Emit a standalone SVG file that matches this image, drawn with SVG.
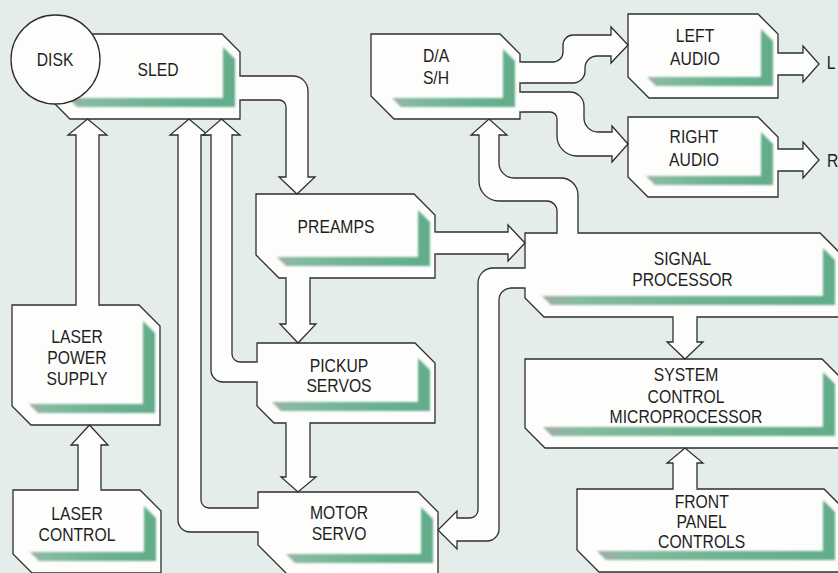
<svg xmlns="http://www.w3.org/2000/svg" width="838" height="573" viewBox="0 0 838 573">
<defs>
<linearGradient id="sh" x1="0" y1="0" x2="1" y2="0">
<stop offset="0" stop-color="#a3aba7"/>
<stop offset="0.12" stop-color="#86bba0"/>
<stop offset="0.5" stop-color="#6fb392"/>
<stop offset="1" stop-color="#62ac8a"/>
</linearGradient>
<filter id="soft" x="-5%" y="-5%" width="110%" height="110%"><feGaussianBlur stdDeviation="0.8"/></filter>
</defs>
<style>
.box{fill:#fdfdfc;stroke:#2e2e2e;stroke-width:1.3;stroke-linejoin:miter}
.shd{fill:url(#sh);filter:url(#soft)}
.con{fill:#fcfdfc;stroke:#2e2e2e;stroke-width:1.3;stroke-linejoin:miter}
.gap{fill:#fdfdfc}
.t{font-family:"Liberation Sans",Arial,sans-serif;font-size:18.5px;fill:#1e1e1e;text-anchor:middle;transform-box:fill-box;transform-origin:center;transform:scaleX(0.85)}
.s{text-anchor:start}
</style>
<rect width="838" height="573" fill="#e5edeb"/>

<g id="sled">
<polygon class="box" points="55,34 222,34 240,52 240,119 70,119 55,104"/>
<polygon class="shd" points="68,98 223,98 223,47 235,59 235,107 77,107"/>
<text class="t" x="158" y="76">SLED</text>
</g>
<g id="disk">
<circle class="box" cx="55.5" cy="59.5" r="44.5"/>
<text class="t" x="55" y="66.5">DISK</text>
</g>
<g id="da-sh">
<polygon class="box" points="371,34 500,34 520,54 520,119 394,119 371,96"/>
<polygon class="shd" points="392,98 503,98 503,49 515,61 515,107 401,107"/>
<text class="t" x="436" y="62.5">D/A</text>
<text class="t" x="436" y="84">S/H</text>
</g>
<g id="left-audio">
<polygon class="box" points="628,14 758,14 778,34 778,98 649,98 628,77"/>
<polygon class="shd" points="647,77 761,77 761,29 773,41 773,86 656,86"/>
<text class="t" x="695" y="42.5">LEFT</text>
<text class="t" x="695" y="65.5">AUDIO</text>
</g>
<g id="right-audio">
<polygon class="box" points="628,117 758,117 778,137 778,197 648,197 628,177"/>
<polygon class="shd" points="646,176 761,176 761,132 773,144 773,185 655,185"/>
<text class="t" x="694" y="143.5">RIGHT</text>
<text class="t" x="694" y="166.5">AUDIO</text>
</g>
<g id="preamps">
<polygon class="box" points="256,194 414,194 435,215 435,278 279,278 256,255"/>
<polygon class="shd" points="277,257 418,257 418,210 430,222 430,266 286,266"/>
<text class="t" x="336" y="233.3">PREAMPS</text>
</g>
<g id="pickup-servos">
<polygon class="box" points="257,343 415,343 435,363 435,423 274,423 257,406"/>
<polygon class="shd" points="272,402 418,402 418,358 430,370 430,411 281,411"/>
<text class="t" x="339" y="372.5">PICKUP</text>
<text class="t" x="339" y="392.5">SERVOS</text>
</g>
<g id="motor-servo">
<polygon class="box" points="258,492 418,492 438,512 438,575 288,575 258,545"/>
<polygon class="shd" points="286,554 421,554 421,507 433,519 433,563 295,563"/>
<text class="t" x="339" y="519.5">MOTOR</text>
<text class="t" x="339" y="540.5">SERVO</text>
</g>
<g id="laser-power-supply">
<polygon class="box" points="12,305 139,305 160,326 160,425 31,425 12,406"/>
<polygon class="shd" points="29,404 143,404 143,321 155,333 155,413 38,413"/>
<text class="t" x="77" y="342.7">LASER</text>
<text class="t" x="77" y="364">POWER</text>
<text class="t" x="77" y="385">SUPPLY</text>
</g>
<g id="laser-control">
<polygon class="box" points="13,490 140,490 161,511 161,573 32,573 13,554"/>
<polygon class="shd" points="30,552 144,552 144,506 156,518 156,561 39,561"/>
<text class="t" x="77" y="520">LASER</text>
<text class="t" x="77" y="540.7">CONTROL</text>
</g>
<g id="signal-processor">
<polygon class="box" points="525,233 820,233 840,253 840,317 544,317 525,298"/>
<polygon class="shd" points="542,296 823,296 823,248 835,260 835,305 551,305"/>
<text class="t" x="682.5" y="265">SIGNAL</text>
<text class="t" x="682.5" y="285.7">PROCESSOR</text>
</g>
<g id="system-control">
<polygon class="box" points="525,359 822,359 840,377 840,448 545,448 525,428"/>
<polygon class="shd" points="543,427 823,427 823,372 835,384 835,436 552,436"/>
<text class="t" x="686" y="380.7">SYSTEM</text>
<text class="t" x="686" y="402.7">CONTROL</text>
<text class="t" x="686" y="423.3">MICROPROCESSOR</text>
</g>
<g id="front-panel">
<polygon class="box" points="577,489 824,489 840,505 840,572 599,572 577,550"/>
<polygon class="shd" points="597,551 823,551 823,500 835,512 835,560 606,560"/>
<text class="t" x="701.7" y="508.3">FRONT</text>
<text class="t" x="701.7" y="528.3">PANEL</text>
<text class="t" x="701.7" y="548.3">CONTROLS</text>
</g>

<g id="connectors">
<path class="con" d="M240,76 H293 A15,15 0 0 1 308,91 V177 H315 L297,194 L279,177 H286 V107 A7,7 0 0 0 279,100 H240"/>
<path class="con" d="M286,278 V324 H280 L298,343 L316,324 H310 V278"/>
<path class="con" d="M286,423 V477 H281 L298,492 L316,477 H310 V423"/>
<path class="con" d="M76,305 V135 H68 L87.5,119 L107,135 H99 V305"/>
<path class="con" d="M78,490 V445 H71 L89.5,425 L108,445 H101 V490"/>
<path class="con" d="M258,508 H209 A8,8 0 0 1 201,500 V135 H208 L189,119 L170,135 H178 V520 A12,12 0 0 0 190,532 H258"/>
<path class="con" d="M257,362 H240 A8,8 0 0 1 232,354 V135 H240 L221.5,119 L203,135 H211 V370 A12,12 0 0 0 223,382 H257"/>
<path class="con" d="M435,232 H508 V225 L525,243 L508,261 V254 H435"/>
<path class="con" d="M557,233 V211 A10,10 0 0 0 547,201 H499 A20,20 0 0 1 479,181 V135 H471 L489,119 L507,135 H499 V163 A15,15 0 0 0 514,178 H561 A17,17 0 0 1 578,195 V233"/>
<path class="con" d="M525,268 H493 A15,15 0 0 0 478,283 V510 A8,8 0 0 1 470,518 H457 V511 L438,530 L457,549 V541 H487 A12,12 0 0 0 499,529 V300 A12,12 0 0 1 511,288 H525"/>
<path class="con" d="M673,317 V342 H667 L685,359 L703,342 H697 V317"/>
<path class="con" d="M673,489 V463 H667 L685,448 L703,463 H697 V489"/>
<path class="con" d="M520,62 H553 A10,10 0 0 0 563,52 V45 A10,10 0 0 1 573,35 H611 V27 L628,45 L611,63 V56 H597 A12,12 0 0 0 585,68 V71 A12,12 0 0 1 573,83 H520"/>
<path class="con" d="M520,92 H570 A14,14 0 0 1 584,106 V118 A14,14 0 0 0 598,132 H612 V126 L628,144 L612,162 V156 H577 A20,20 0 0 1 557,136 V119 A7,7 0 0 0 550,112 H520"/>
<path class="con" d="M778,53 H803 V46 L819,64 L803,82 V75 H778"/>
<path class="con" d="M778,149 H803 V142 L819,160 L803,178 V171 H778"/>
<rect class="gap" x="238.5" y="76.8" width="3" height="22.4"/>
<rect class="gap" x="286.8" y="276.5" width="22.4" height="3"/>
<rect class="gap" x="433.5" y="232.8" width="3" height="20.4"/>
<rect class="gap" x="286.8" y="421.5" width="22.4" height="3"/>
<rect class="gap" x="255.5" y="362.8" width="3" height="18.4"/>
<rect class="gap" x="256.5" y="508.8" width="3" height="22.4"/>
<rect class="gap" x="76.8" y="303.5" width="21.4" height="3"/>
<rect class="gap" x="78.8" y="488.5" width="21.4" height="3"/>
<rect class="gap" x="557.8" y="231.5" width="19.4" height="3"/>
<rect class="gap" x="523.5" y="268.8" width="3" height="18.4"/>
<rect class="gap" x="673.8" y="315.5" width="22.4" height="3"/>
<rect class="gap" x="673.8" y="487.5" width="22.4" height="3"/>
<rect class="gap" x="518.5" y="62.8" width="3" height="19.4"/>
<rect class="gap" x="518.5" y="92.8" width="3" height="18.4"/>
<rect class="gap" x="776.5" y="53.8" width="3" height="20.4"/>
<rect class="gap" x="776.5" y="149.8" width="3" height="20.4"/>
</g>
<text class="t s" x="826" y="69.5">L</text>
<text class="t s" x="826" y="167.5">R</text>
</svg>
